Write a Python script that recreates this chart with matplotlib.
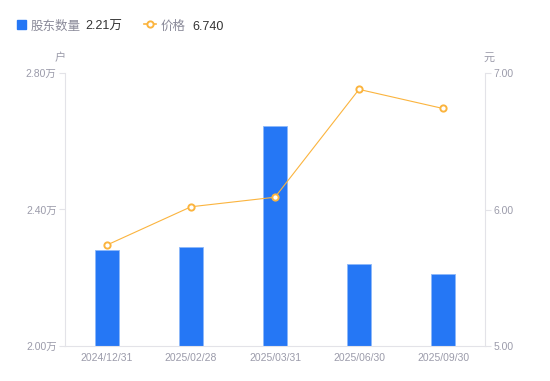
import matplotlib
matplotlib.use('Agg')
import matplotlib.pyplot as plt
import numpy as np

plt.rcParams['font.family'] = ['Liberation Sans', 'Noto Sans CJK SC', 'DejaVu Sans']

dates = ['2024/12/31', '2025/02/28', '2025/03/31', '2025/06/30', '2025/09/30']
holders = [2.28, 2.29, 2.645, 2.24, 2.21]   # 万户
price = [5.74, 6.02, 6.09, 6.88, 6.74]      # 元

left_ticks = [2.00, 2.40, 2.80]
right_ticks = [5.00, 6.00, 7.00]

bar_color = '#2577F5'
line_color = '#FBB43E'
tick_color = '#9B9BAA'
axis_color = '#E3E3E8'

fig = plt.figure(figsize=(5.5, 3.81), dpi=100)
ax = fig.add_axes([65 / 550, 1 - 346 / 381, 420 / 550, 273 / 381])
ax2 = ax.twinx()

x = np.arange(len(dates))
ax.bar(x, holders, width=0.29, bottom=0, color=bar_color, edgecolor='#8DB8FA', linewidth=0.6, zorder=2)
ax.set_ylim(2.0, 2.8)
ax.set_xlim(-0.5, len(dates) - 0.5)
ax.set_yticks(left_ticks)
ax.set_yticklabels(['%.2f万' % v for v in left_ticks])
ax.set_xticks(x)
ax.set_xticklabels(dates)

ax2.plot(x, price, color=line_color, linewidth=0.8, marker='o', markersize=4.5,
         markerfacecolor='white', markeredgecolor=line_color, markeredgewidth=1.4, zorder=3)
ax2.set_ylim(5.0, 7.0)
ax2.set_yticks(right_ticks)
ax2.set_yticklabels(['%.2f' % v for v in right_ticks])

for a in (ax, ax2):
    for s in a.spines.values():
        s.set_visible(False)
    a.tick_params(colors=tick_color, labelcolor=tick_color, labelsize=7.5, length=4, width=0.8, pad=2)
ax.spines['left'].set_visible(True)
ax.spines['left'].set_color(axis_color)
ax.spines['bottom'].set_visible(True)
ax.spines['bottom'].set_color(axis_color)
ax2.spines['right'].set_visible(True)
ax2.spines['right'].set_color(axis_color)
ax.tick_params(axis='y', color=axis_color)
ax2.tick_params(axis='y', color=axis_color)
ax.tick_params(axis='x', length=0, pad=5)

# unit labels
fig.text(60 / 550, 1 - 58 / 381, '户', color=tick_color, fontsize=8, ha='center', va='center')
fig.text(489 / 550, 1 - 58 / 381, '元', color=tick_color, fontsize=8, ha='center', va='center')

# legend
ly = 1 - 25 / 381
fig.patches.append(plt.Rectangle((17 / 550, 1 - 29 / 381), 9 / 550, 9 / 381,
                                 transform=fig.transFigure, color=bar_color))
fig.text(31 / 550, ly, '股东数量', color='#8A8A99', fontsize=9, va='center_baseline')
fig.text(85 / 550, ly, '2.21万', color='#333333', fontsize=9, va='center_baseline')
fig.lines.append(plt.Line2D([144 / 550, 156 / 550], [1 - 24 / 381, 1 - 24 / 381],
                            transform=fig.transFigure, color=line_color, linewidth=1.2))
fig.lines.append(plt.Line2D([150 / 550], [1 - 24 / 381], transform=fig.transFigure,
                            marker='o', markersize=4.5, markerfacecolor='white',
                            markeredgecolor=line_color, markeredgewidth=1.4, linestyle='none'))
fig.text(161 / 550, ly, '价格', color='#8A8A99', fontsize=9, va='center_baseline')
fig.text(192 / 550, ly, '6.740', color='#333333', fontsize=9, va='center_baseline')

fig.savefig('out.png', dpi=100)
